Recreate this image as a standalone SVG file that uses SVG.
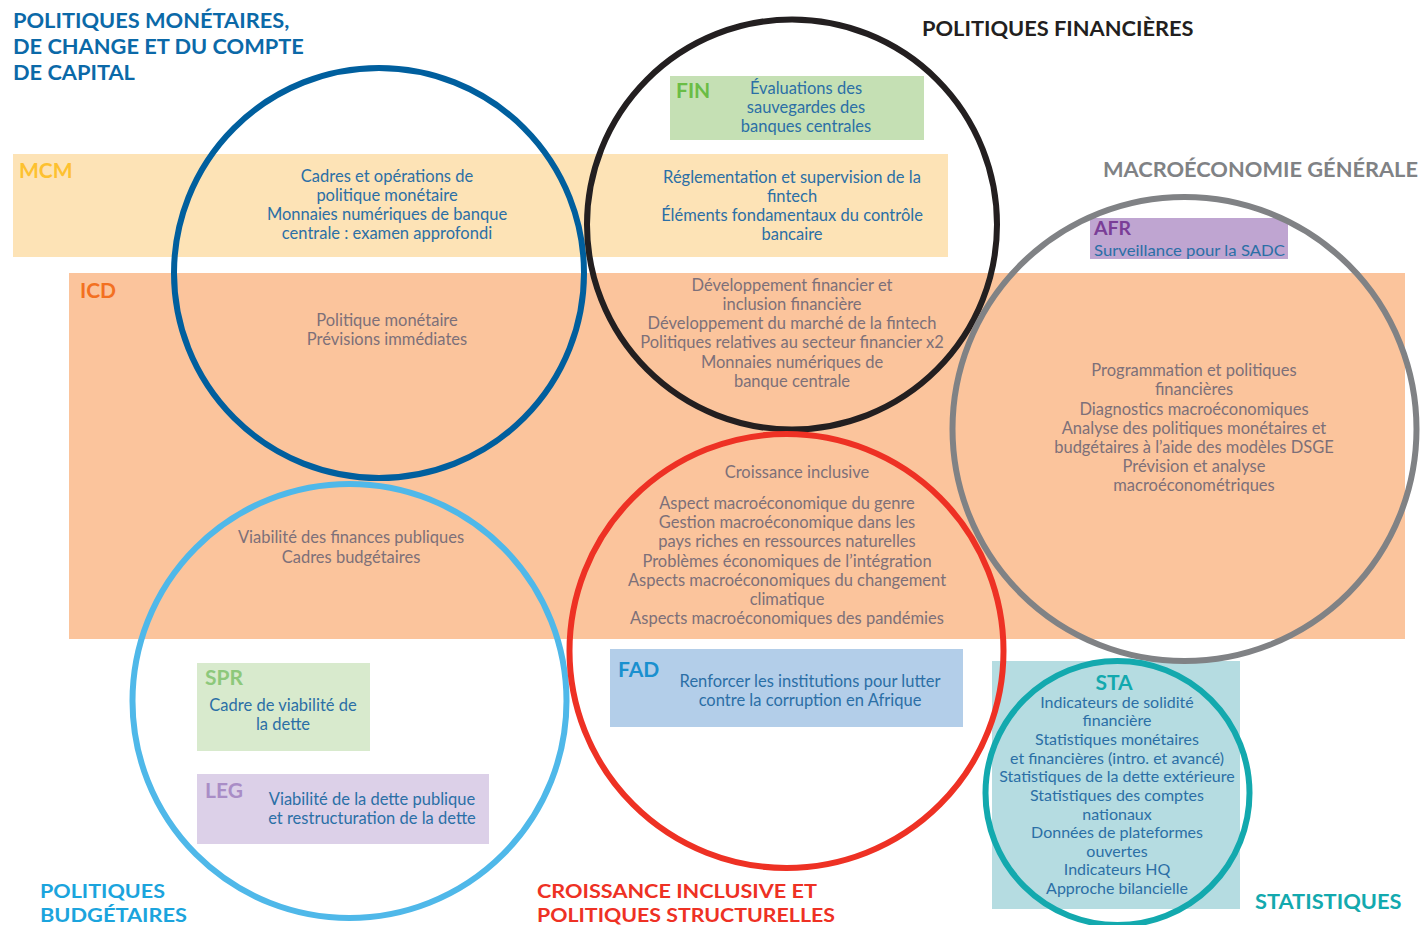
<svg xmlns="http://www.w3.org/2000/svg" width="1424" height="925" viewBox="0 0 1424 925">
<style>
.t{font-family:Lato,"Noto Sans","DejaVu Sans",sans-serif;font-size:16.5px;text-anchor:middle}
.s{font-size:16px}
.b{fill:#2b6fa6}
.g{fill:#7d7079}
.lab{font-family:Lato,"Noto Sans",sans-serif;font-weight:bold;font-size:21px}
.ttl{font-family:Lato,"Noto Sans",sans-serif;font-weight:bold;font-size:21.8px}
.bt{font-family:Lato,"Noto Sans",sans-serif;font-weight:bold;font-size:19.5px}
.c{fill:none;stroke-width:6}
</style>
<rect width="1424" height="925" fill="#ffffff"/>
<g id="bands">
<rect x="13" y="154" width="935" height="103" fill="#fde3b6"/>
<rect x="69" y="273" width="1336" height="366" fill="#fbc49c"/>
</g>
<g id="boxes">
<rect x="670" y="76" width="254" height="64" fill="#c5e0b4"/>
<rect x="1090" y="218" width="198" height="41" fill="#bfa5d1"/>
<rect x="610" y="649" width="353" height="78" fill="#b3cee9"/>
<rect x="197" y="663" width="173" height="88" fill="#d8eacd"/>
<rect x="197" y="774" width="292" height="70" fill="#dcd0e8"/>
<rect x="992" y="661" width="248" height="248" fill="#b5dce1"/>
</g>
<g id="circles">
<circle id="c-mcm" class="c" cx="379" cy="273" r="205" stroke="#005f9e"/>
<circle id="c-fin" class="c" cx="792" cy="224.5" r="205" stroke="#231f20"/>
<circle id="c-gen" class="c" cx="1184.5" cy="429" r="232" stroke="#808285"/>
<circle id="c-fis" class="c" cx="349.5" cy="701" r="217" stroke="#4fb8e9"/>
<circle id="c-inc" class="c" cx="786.5" cy="651" r="217" stroke="#ee3124"/>
<circle id="c-sta" class="c" cx="1117.5" cy="793" r="132" stroke="#13a9ae"/>
</g>
<g id="titles">
<text class="ttl" fill="#0b69a8" x="13" y="28">POLITIQUES MONÉTAIRES,</text>
<text class="ttl" fill="#0b69a8" x="13" y="54">DE CHANGE ET DU COMPTE</text>
<text class="ttl" fill="#0b69a8" x="13" y="80">DE CAPITAL</text>
<text class="ttl" fill="#231f20" x="922" y="36">POLITIQUES FINANCIÈRES</text>
<text class="ttl" fill="#808285" x="1103" y="177">MACROÉCONOMIE GÉNÉRALE</text>
<text class="bt" fill="#1ba4dd" x="40" y="898" textLength="125" lengthAdjust="spacingAndGlyphs">POLITIQUES</text>
<text class="bt" fill="#1ba4dd" x="40" y="922" textLength="147" lengthAdjust="spacingAndGlyphs">BUDGÉTAIRES</text>
<text class="bt" fill="#ee3124" x="537" y="898" textLength="280" lengthAdjust="spacingAndGlyphs">CROISSANCE INCLUSIVE ET</text>
<text class="bt" fill="#ee3124" x="537" y="922" textLength="298" lengthAdjust="spacingAndGlyphs">POLITIQUES STRUCTURELLES</text>
<text class="ttl" fill="#13a9ae" x="1255" y="909">STATISTIQUES</text>
</g>
<g id="mcm">
<text class="lab" fill="#fdc130" x="19" y="178">MCM</text>
<text class="t b" x="387" y="182">Cadres et opérations de</text>
<text class="t b" x="387" y="201">politique monétaire</text>
<text class="t b" x="387" y="220">Monnaies numériques de banque</text>
<text class="t b" x="387" y="239">centrale : examen approfondi</text>
<text class="t b" x="792" y="183">Réglementation et supervision de la</text>
<text class="t b" x="792" y="202">fintech</text>
<text class="t b" x="792" y="221">Éléments fondamentaux du contrôle</text>
<text class="t b" x="792" y="240">bancaire</text>
</g>
<g id="fin">
<text class="lab" fill="#6abd45" x="676" y="98">FIN</text>
<text class="t b" x="806" y="94">Évaluations des</text>
<text class="t b" x="806" y="113">sauvegardes des</text>
<text class="t b" x="806" y="132">banques centrales</text>
</g>
<g id="icd">
<text class="lab" fill="#f37021" x="80" y="298">ICD</text>
<text class="t g" x="387" y="326">Politique monétaire</text>
<text class="t g" x="387" y="345">Prévisions immédiates</text>
<text class="t g" x="792" y="291">Développement financier et</text>
<text class="t g" x="792" y="310">inclusion financière</text>
<text class="t g" x="792" y="329">Développement du marché de la fintech</text>
<text class="t g" x="792" y="348">Politiques relatives au secteur financier x2</text>
<text class="t g" x="792" y="368">Monnaies numériques de</text>
<text class="t g" x="792" y="387">banque centrale</text>
<text class="t g" x="1194" y="376">Programmation et politiques</text>
<text class="t g" x="1194" y="395">financières</text>
<text class="t g" x="1194" y="415">Diagnostics macroéconomiques</text>
<text class="t g" x="1194" y="434">Analyse des politiques monétaires et</text>
<text class="t g" x="1194" y="453">budgétaires à l’aide des modèles DSGE</text>
<text class="t g" x="1194" y="472">Prévision et analyse</text>
<text class="t g" x="1194" y="491">macroéconométriques</text>
<text class="t g" x="351" y="543">Viabilité des finances publiques</text>
<text class="t g" x="351" y="563">Cadres budgétaires</text>
<text class="t g" x="797" y="478">Croissance inclusive</text>
<text class="t g" x="787" y="509">Aspect macroéconomique du genre</text>
<text class="t g" x="787" y="528">Gestion macroéconomique dans les</text>
<text class="t g" x="787" y="547">pays riches en ressources naturelles</text>
<text class="t g" x="787" y="567">Problèmes économiques de l’intégration</text>
<text class="t g" x="787" y="586">Aspects macroéconomiques du changement</text>
<text class="t g" x="787" y="605">climatique</text>
<text class="t g" x="787" y="624">Aspects macroéconomiques des pandémies</text>
</g>
<g id="afr">
<text class="lab" fill="#7a3e97" x="1094" y="235" style="font-size:19.5px">AFR</text>
<text class="t s b" x="1094" y="256" style="text-anchor:start" textLength="191" lengthAdjust="spacingAndGlyphs">Surveillance pour la SADC</text>
</g>
<g id="fad">
<text class="lab" fill="#1a90cf" x="618" y="677">FAD</text>
<text class="t b" x="810" y="687">Renforcer les institutions pour lutter</text>
<text class="t b" x="810" y="706">contre la corruption en Afrique</text>
</g>
<g id="spr">
<text class="lab" fill="#8dc87b" x="205" y="685">SPR</text>
<text class="t b" x="283" y="711">Cadre de viabilité de</text>
<text class="t b" x="283" y="730">la dette</text>
</g>
<g id="leg">
<text class="lab" fill="#a98dc6" x="205" y="798">LEG</text>
<text class="t b" x="372" y="805">Viabilité de la dette publique</text>
<text class="t b" x="372" y="824">et restructuration de la dette</text>
</g>
<g id="sta">
<text class="lab" fill="#13a9ae" x="1114" y="690" style="text-anchor:middle">STA</text>
<text class="t s b" x="1117" y="708">Indicateurs de solidité</text>
<text class="t s b" x="1117" y="726">financière</text>
<text class="t s b" x="1117" y="745">Statistiques monétaires</text>
<text class="t s b" x="1117" y="764">et financières (intro. et avancé)</text>
<text class="t s b" x="1117" y="782">Statistiques de la dette extérieure</text>
<text class="t s b" x="1117" y="801">Statistiques des comptes</text>
<text class="t s b" x="1117" y="820">nationaux</text>
<text class="t s b" x="1117" y="838">Données de plateformes</text>
<text class="t s b" x="1117" y="857">ouvertes</text>
<text class="t s b" x="1117" y="875">Indicateurs HQ</text>
<text class="t s b" x="1117" y="894">Approche bilancielle</text>
</g>
<g id="connectors"></g>
</svg>
